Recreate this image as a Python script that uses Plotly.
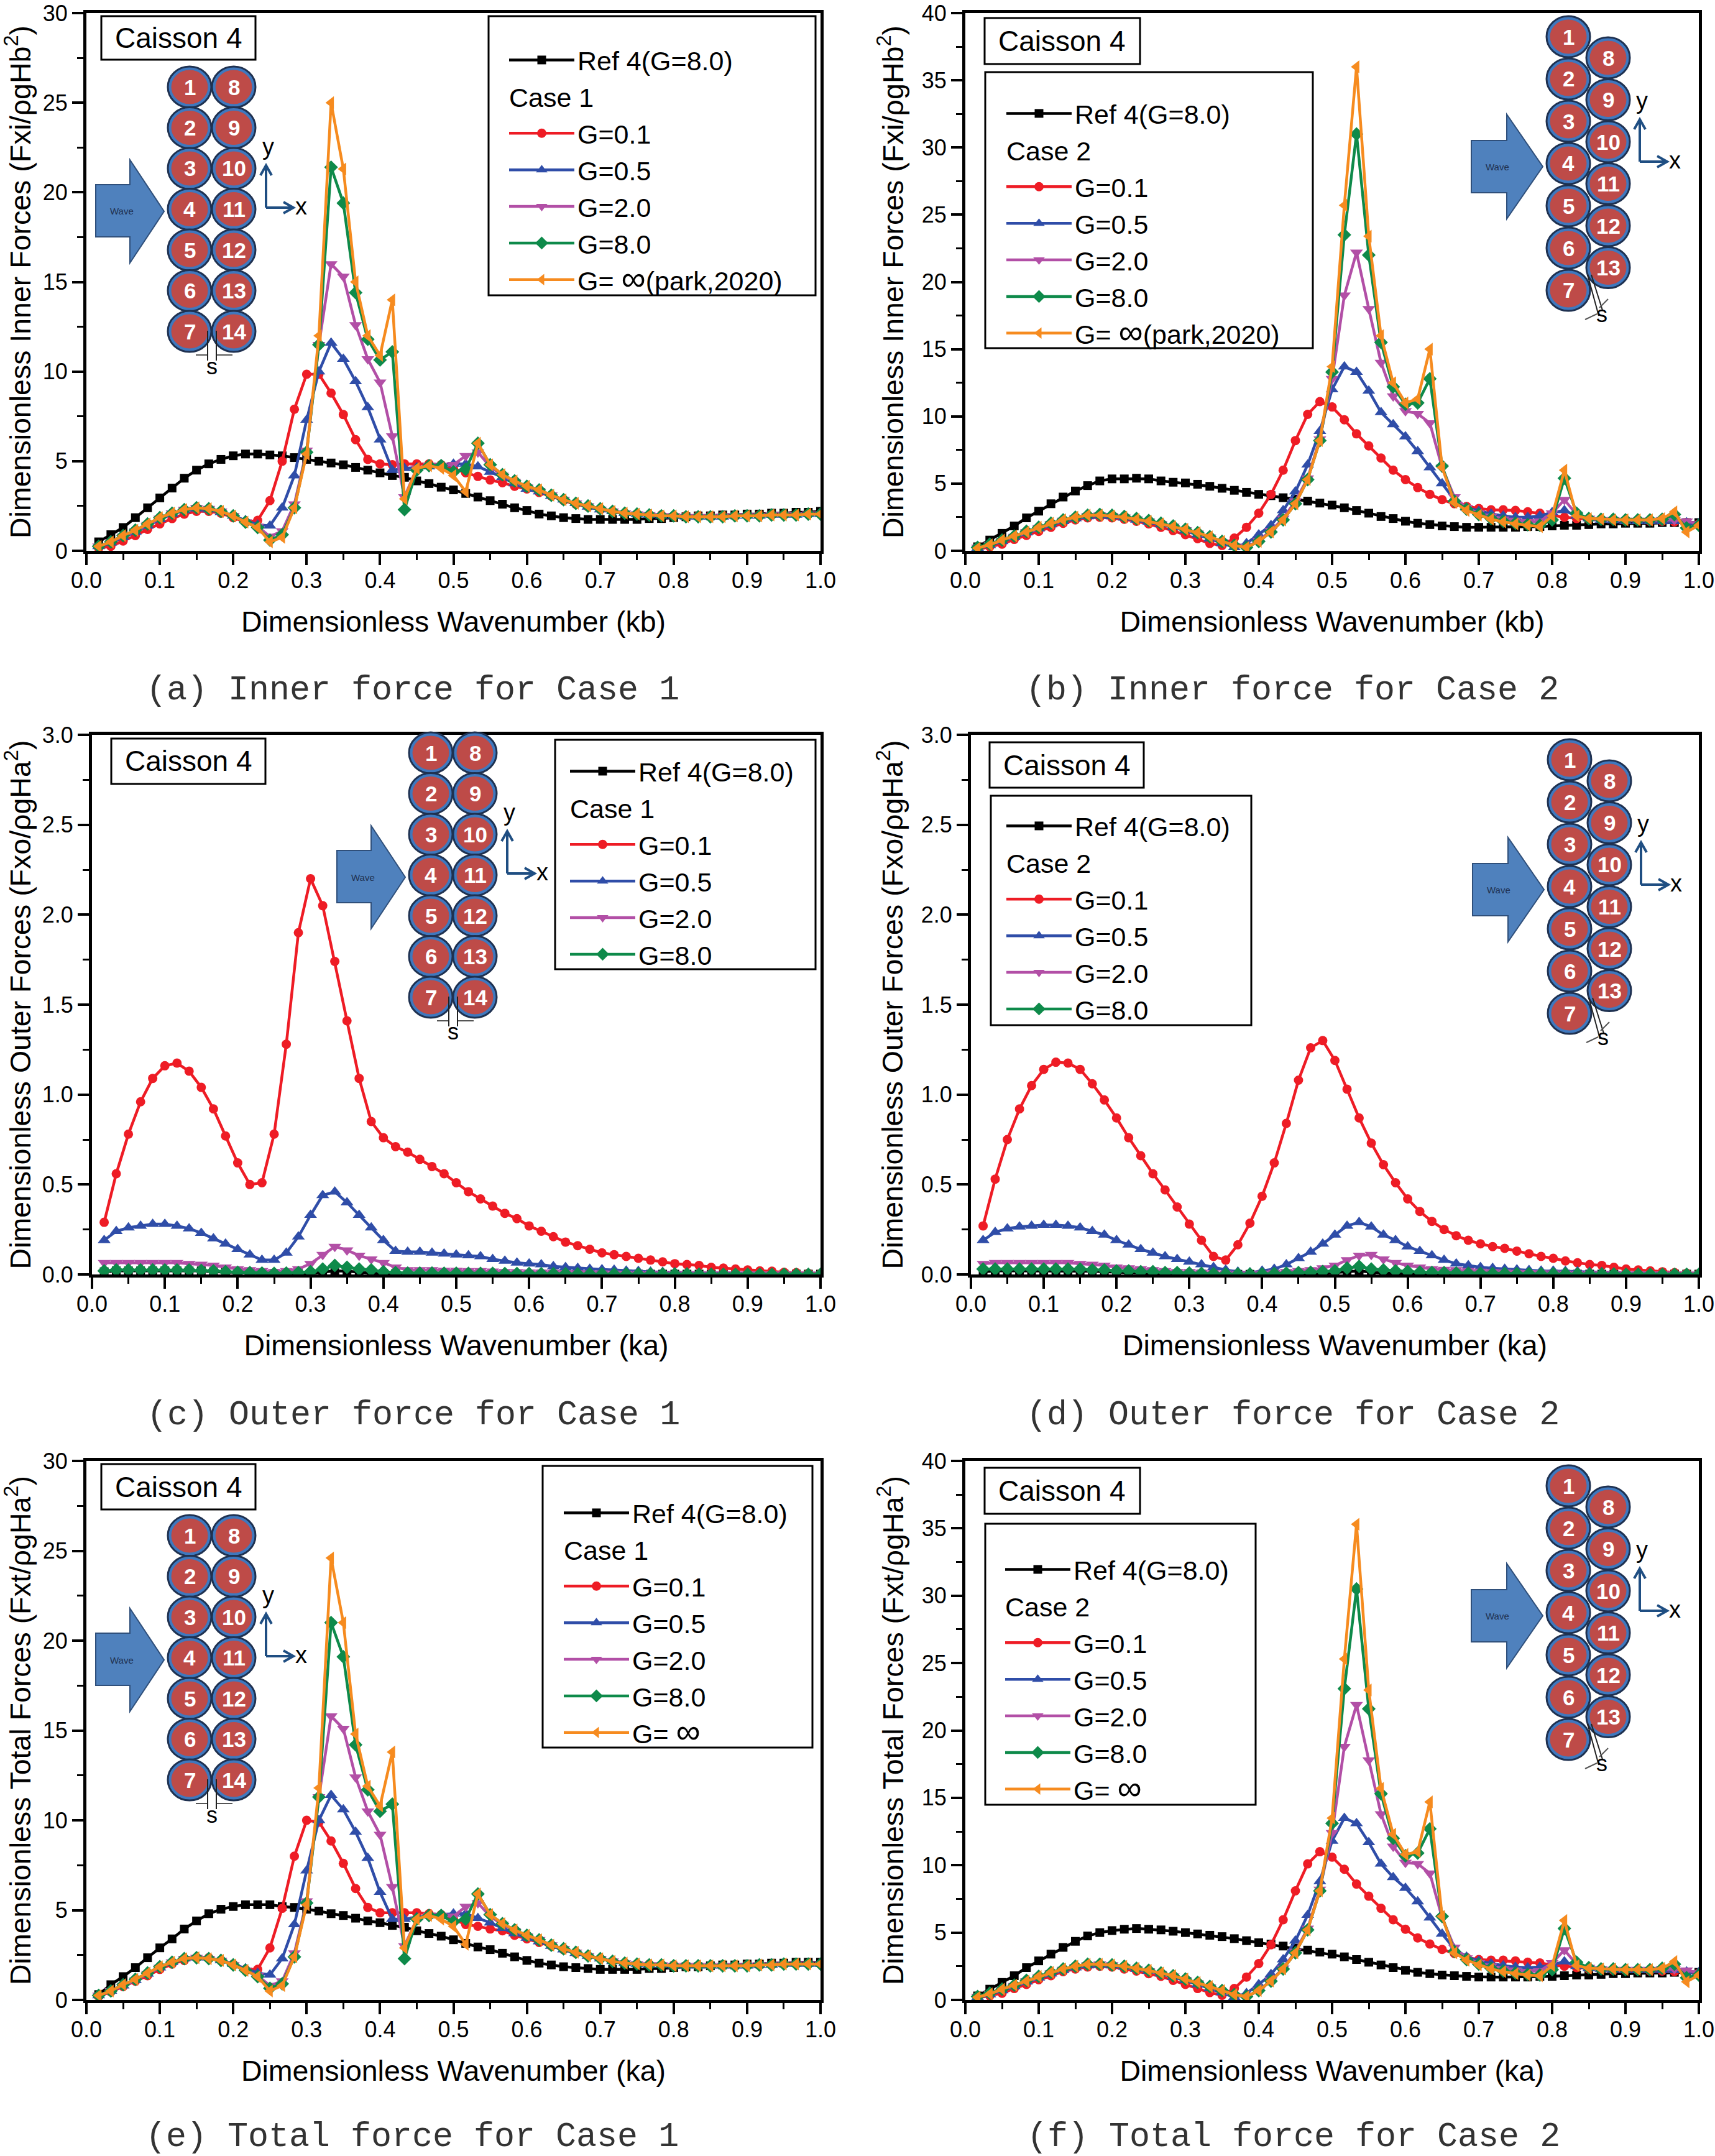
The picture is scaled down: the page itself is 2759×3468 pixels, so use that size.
import plotly.graph_objects as go

W, H = 2759, 3468

wavenumber = [0.0167, 0.0333, 0.05, 0.0667, 0.0833, 0.1, 0.1167, 0.1333, 0.15, 0.1667,
              0.1833, 0.2, 0.2167, 0.2333, 0.25, 0.2667, 0.2833, 0.3, 0.3167, 0.3333,
              0.35, 0.3667, 0.3833, 0.4, 0.4167, 0.4333, 0.45, 0.4667, 0.4833, 0.5,
              0.5167, 0.5333, 0.55, 0.5667, 0.5833, 0.6, 0.6167, 0.6333, 0.65, 0.6667,
              0.6833, 0.7, 0.7167, 0.7333, 0.75, 0.7667, 0.7833, 0.8, 0.8167, 0.8333,
              0.85, 0.8667, 0.8833, 0.9, 0.9167, 0.9333, 0.95, 0.9667, 0.9833, 1.0]

# (a) inner force, case 1
a_ref = [.5, .9, 1.3, 1.85, 2.4, 2.95, 3.5, 4.05, 4.5, 4.85,
         5.1, 5.3, 5.4, 5.4, 5.35, 5.3, 5.2, 5.1, 5.0, 4.9,
         4.8, 4.65, 4.5, 4.35, 4.2, 4.1, 3.9, 3.75, 3.55, 3.4,
         3.2, 3.0, 2.8, 2.6, 2.4, 2.25, 2.05, 1.95, 1.85, 1.8,
         1.75, 1.75, 1.75, 1.75, 1.75, 1.8, 1.8, 1.85, 1.9, 1.95,
         1.95, 2, 2, 2.05, 2.05, 2.1, 2.1, 2.15, 2.15, 2.2]
a_g01 = [.15, .25, .55, .85, 1.2, 1.5, 1.8, 2.05, 2.2, 2.2,
         2.1, 1.85, 1.6, 1.7, 2.8, 5.0, 7.9, 9.85, 9.85, 8.8,
         7.6, 6.2, 5.1, 4.85, 4.8, 4.85, 4.85, 4.85, 4.8, 4.6,
         4.35, 4.15, 3.95, 3.8, 3.6, 3.45, 3.25, 3.05, 2.8, 2.6,
         2.45, 2.3, 2.2, 2.1, 2.05, 2, 2, 1.95, 1.95, 1.95,
         1.95, 1.95, 1.95, 1.95, 2, 2, 2, 2, 2.05, 2.05]
a_g05 = [.25, .45, .75, 1.05, 1.4, 1.75, 2.05, 2.25, 2.35, 2.3,
         2.15, 1.95, 1.7, 1.45, 1.4, 2.4, 4.2, 7.3, 10, 11.6,
         10.7, 9.45, 8, 6.2, 4.5, 4.6, 4.65, 4.7, 4.8, 4.85,
         4.85, 4.7, 4.4, 4.1, 3.75, 3.45, 3.3, 3.05, 2.85, 2.65,
         2.45, 2.3, 2.2, 2.1, 2.05, 2, 1.95, 1.95, 1.9, 1.9,
         1.9, 1.9, 1.95, 1.95, 1.95, 2, 2, 2, 2.05, 2.05]
a_g2 = [.25, .5, .8, 1.1, 1.45, 1.8, 2.1, 2.3, 2.4, 2.35,
        2.2, 1.95, 1.6, 1.35, .8, 1.1, 2.6, 5.6, 11.5, 16,
        15.3, 12.6, 10.7, 9.4, 6.4, 3.0, 4.6, 4.75, 4.75, 4.8,
        5.3, 5.5, 4.7, 4.2, 3.85, 3.55, 3.35, 3.1, 2.85, 2.65,
        2.5, 2.3, 2.2, 2.1, 2.05, 2, 1.95, 1.95, 1.9, 1.9,
        1.9, 1.9, 1.95, 1.95, 1.95, 2, 2, 2, 2.05, 2.05]
a_g8 = [.25, .5, .85, 1.15, 1.5, 1.85, 2.1, 2.3, 2.4, 2.35,
        2.2, 1.95, 1.6, 1.3, .6, .9, 2.4, 5.5, 11.5, 21.4,
        19.4, 14.4, 11.8, 10.65, 11.1, 2.3, 4.5, 4.75, 4.75, 4.4,
        4.55, 6, 4.8, 4.25, 3.9, 3.6, 3.4, 3.1, 2.85, 2.65,
        2.5, 2.35, 2.2, 2.1, 2.05, 2, 1.95, 1.95, 1.9, 1.9,
        1.9, 1.9, 1.95, 1.95, 1.95, 2, 2, 2, 2.05, 2.05]
a_inf = [.25, .5, .85, 1.15, 1.5, 1.85, 2.1, 2.3, 2.4, 2.35,
         2.2, 1.95, 1.6, 1.3, .5, .75, 2.4, 5.4, 12, 25,
         21.3, 15, 12, 10.9, 14, 2.9, 4.6, 4.75, 4.6, 4.2,
         3.3, 6, 4.8, 4.25, 3.9, 3.6, 3.4, 3.1, 2.85, 2.65,
         2.5, 2.35, 2.2, 2.1, 2.05, 2, 1.95, 1.95, 1.9, 1.9,
         1.9, 1.9, 1.95, 1.95, 1.95, 2, 2, 2, 2.05, 2.05]

# (b) inner force, case 2
b_ref = [.3, .8, 1.3, 1.85, 2.45, 2.95, 3.5, 4.0, 4.45, 4.85,
         5.2, 5.35, 5.35, 5.4, 5.35, 5.2, 5.1, 5.05, 4.95, 4.8,
         4.65, 4.5, 4.35, 4.2, 4.1, 3.95, 3.85, 3.7, 3.55, 3.4,
         3.2, 3.0, 2.8, 2.55, 2.4, 2.2, 2.05, 1.95, 1.85, 1.8,
         1.75, 1.75, 1.75, 1.75, 1.75, 1.8, 1.8, 1.85, 1.9, 1.9,
         1.95, 2, 2, 2.05, 2.05, 2.05, 2.1, 2.1, 2.1, 2.1]
b_g01 = [.1, .3, .5, .85, 1.15, 1.45, 1.75, 2.05, 2.3, 2.45,
         2.5, 2.45, 2.35, 2.2, 2, 1.75, 1.5, 1.2, .9, .55,
         .4, .95, 1.75, 2.8, 4.2, 6, 8.2, 10.15, 11.1, 10.7,
         9.75, 8.7, 7.8, 6.9, 6, 5.3, 4.7, 4.2, 3.8, 3.5,
         3.3, 3.15, 3.05, 3.05, 3, 2.9, 2.8, 2.65, 2.5, 2.4,
         2.35, 2.3, 2.3, 2.25, 2.25, 2.2, 2.2, 2.15, 2.1, 2]
b_g05 = [.2, .4, .7, 1.0, 1.35, 1.65, 1.95, 2.2, 2.4, 2.55,
         2.6, 2.55, 2.45, 2.3, 2.15, 1.95, 1.75, 1.5, 1.2, .9,
         .55, .25, .55, 1.2, 1.9, 3.0, 4.4, 6.4, 8.9, 12.0,
         13.7, 13.3, 11.9, 10.3, 9.4, 8.5, 7.4, 6.2, 5.0, 3.8,
         3.2, 2.95, 2.75, 2.6, 2.5, 2.5, 2.6, 2.85, 3.0, 2.6,
         2.4, 2.3, 2.25, 2.2, 2.2, 2.2, 2.2, 2.2, 2.1, 2.05]
b_g2 = [.25, .45, .75, 1.05, 1.4, 1.7, 2, 2.25, 2.45, 2.6,
        2.65, 2.6, 2.5, 2.35, 2.2, 2, 1.8, 1.55, 1.3, 1,
        .65, .35, .3, .75, 1.5, 2.4, 3.7, 5.4, 8.3, 12.8,
        19, 22.2, 18, 14, 11.5, 10.4, 10.2, 9.5, 6.2, 4,
        3.2, 2.8, 2.55, 2.35, 2.25, 2.15, 2.2, 2.8, 3.8, 2.7,
        2.4, 2.3, 2.3, 2.25, 2.25, 2.25, 2.3, 2.3, 2.2, 2]
b_g8 = [.25, .5, .8, 1.1, 1.45, 1.75, 2.05, 2.3, 2.5, 2.65,
        2.7, 2.65, 2.55, 2.4, 2.25, 2.05, 1.85, 1.6, 1.35, 1.05,
        .7, .4, .25, .7, 1.4, 2.3, 3.5, 5.3, 8.2, 13.3,
        23.5, 31, 22, 15.5, 12.2, 10.9, 11, 12.8, 6.3, 3.7,
        3.1, 2.7, 2.4, 2.2, 2.05, 1.95, 1.9, 2.3, 5.4, 2.8,
        2.4, 2.35, 2.35, 2.3, 2.3, 2.3, 2.35, 2.7, 1.7, 1.9]
b_inf = [.2, .45, .8, 1.1, 1.4, 1.75, 2.05, 2.3, 2.5, 2.65,
         2.65, 2.6, 2.5, 2.35, 2.2, 2, 1.8, 1.6, 1.35, 1.05,
         .7, .4, .25, .7, 1.4, 2.3, 3.5, 5.3, 8.2, 13.7,
         25.7, 36, 23.4, 16, 12.5, 11, 11.3, 15, 6.2, 3.6,
         3, 2.65, 2.35, 2.15, 2, 1.9, 1.8, 2.6, 6, 2.6,
         2.4, 2.35, 2.3, 2.3, 2.3, 2.3, 2.4, 2.9, 1.4, 1.9]

# (c) outer force, case 1
c_ref = [.015, .02, .02, .02, .02, .02, .02, .02, .02, .015,
         .015, .012, .01, .008, .006, .005, .005, .006, .012, .02,
         .018, .012, .008, .006, .005, .004, .004, .004, .004, .004,
         .004, .004, .003, .003, .003, .003, .002, .002, .002, .002,
         .002, .002, .002, .002, .002, .002, .002, .002, .002, .002,
         .002, .002, .002, .002, .002, .002, .002, .002, .002, .002]
c_g01 = [.29, .56, .78, .96, 1.09, 1.16, 1.175, 1.13, 1.04, .92,
         .77, .62, .5, .51, .78, 1.28, 1.9, 2.2, 2.05, 1.74,
         1.41, 1.09, .85, .76, .71, .68, .64, .6, .56, .51,
         .46, .42, .38, .34, .31, .27, .24, .21, .18, .16,
         .14, .12, .11, .1, .09, .08, .07, .06, .055, .05,
         .04, .035, .03, .025, .02, .018, .012, .01, .006, .004]
c_g05 = [.19, .24, .26, .27, .28, .28, .27, .255, .23, .2,
         .17, .14, .11, .08, .08, .12, .21, .33, .44, .46,
         .4, .33, .26, .19, .13, .125, .125, .12, .115, .11,
         .105, .1, .085, .075, .065, .06, .055, .045, .04, .035,
         .03, .028, .025, .02, .018, .015, .013, .012, .01, .009,
         .008, .007, .006, .006, .005, .004, .004, .003, .002, .002]
c_g2 = [.065, .065, .065, .065, .065, .065, .065, .06, .055, .05,
        .04, .03, .025, .02, .015, .02, .03, .06, .11, .155,
        .135, .105, .085, .065, .04, .025, .025, .025, .022, .022,
        .02, .02, .017, .015, .014, .012, .011, .01, .009, .008,
        .007, .007, .006, .005, .005, .004, .004, .004, .003, .003,
        .003, .003, .002, .002, .002, .002, .002, .002, .001, .001]
c_g8 = [.02, .025, .025, .025, .025, .025, .025, .025, .022, .02,
        .015, .012, .01, .008, .006, .008, .01, .015, .03, .05,
        .04, .03, .025, .015, .01, .008, .008, .008, .007, .007,
        .006, .006, .006, .005, .005, .005, .004, .004, .004, .003,
        .003, .003, .002, .002, .002, .002, .002, .002, .002, .001,
        .001, .001, .001, .001, .001, .001, .001, .001, .001, .001]

# (d) outer force, case 2
d_ref = [.015, .02, .02, .02, .02, .02, .02, .02, .02, .018,
         .015, .012, .01, .008, .006, .005, .004, .003, .002, .002,
         .001, .001, .001, .001, .002, .002, .003, .004, .006, .01,
         .016, .02, .012, .008, .006, .005, .004, .004, .003, .003,
         .003, .002, .002, .002, .002, .002, .002, .002, .002, .002,
         .002, .002, .002, .002, .002, .002, .002, .002, .002, .002]
d_g01 = [.27, .53, .75, .92, 1.05, 1.14, 1.18, 1.175, 1.14, 1.06,
         .97, .87, .76, .66, .56, .47, .375, .28, .19, .1,
         .08, .165, .285, .435, .62, .84, 1.08, 1.26, 1.3, 1.19,
         1.03, .87, .73, .61, .51, .42, .35, .295, .25, .215,
         .19, .17, .155, .145, .13, .115, .1, .09, .075, .065,
         .055, .05, .04, .03, .025, .02, .015, .01, .007, .004]
d_g05 = [.19, .235, .255, .265, .27, .275, .275, .27, .26, .24,
         .22, .19, .165, .14, .12, .1, .085, .07, .055, .04,
         .025, .015, .01, .02, .03, .055, .09, .125, .17, .22,
         .27, .29, .265, .22, .19, .155, .13, .105, .08, .06,
         .05, .04, .035, .03, .027, .023, .02, .02, .018, .016,
         .014, .012, .01, .008, .007, .006, .005, .004, .003, .002]
d_g2 = [.06, .065, .065, .065, .065, .065, .065, .065, .06, .055,
        .05, .04, .035, .03, .025, .02, .015, .015, .01, .008,
        .006, .004, .004, .006, .01, .015, .02, .025, .035, .05,
        .08, .105, .11, .085, .065, .05, .04, .03, .027, .025,
        .02, .016, .014, .012, .01, .009, .008, .007, .006, .005,
        .005, .004, .004, .003, .003, .002, .002, .002, .001, .001]
d_g8 = [.03, .03, .03, .03, .03, .03, .03, .03, .03, .025,
        .025, .02, .02, .015, .015, .01, .01, .008, .006, .004,
        .003, .002, .002, .003, .005, .007, .01, .012, .016, .02,
        .035, .045, .03, .025, .02, .016, .013, .011, .01, .008,
        .007, .006, .005, .005, .004, .004, .003, .003, .003, .002,
        .002, .002, .002, .001, .001, .001, .001, .001, .001, .001]

# (e) total force, case 1
e_ref = [.3, .85, 1.3, 1.8, 2.35, 2.9, 3.4, 3.95, 4.4, 4.8,
         5.05, 5.2, 5.3, 5.3, 5.3, 5.2, 5.15, 5.05, 4.95, 4.8,
         4.7, 4.55, 4.4, 4.3, 4.15, 4.05, 3.85, 3.7, 3.55, 3.35,
         3.15, 2.95, 2.8, 2.6, 2.4, 2.2, 2.05, 1.95, 1.85, 1.8,
         1.75, 1.7, 1.7, 1.7, 1.7, 1.75, 1.75, 1.8, 1.85, 1.85,
         1.9, 1.95, 1.95, 2, 2, 2.05, 2.05, 2.1, 2.1, 2.1]
e_g01 = [.2, .45, .75, 1.05, 1.35, 1.7, 2.0, 2.2, 2.35, 2.35,
         2.2, 2.0, 1.7, 1.7, 2.9, 5.1, 8.0, 10, 9.9, 8.85,
         7.6, 6.2, 5.15, 4.85, 4.85, 4.85, 4.85, 4.8, 4.75, 4.5,
         4.2, 4.1, 3.95, 3.85, 3.6, 3.4, 3.2, 3.0, 2.8, 2.6,
         2.45, 2.3, 2.15, 2.05, 2, 2, 1.95, 1.95, 1.9, 1.9,
         1.9, 1.9, 1.9, 1.95, 1.95, 1.95, 2, 2, 2, 2]
e_g05 = [.25, .5, .8, 1.1, 1.45, 1.8, 2.1, 2.3, 2.35, 2.35,
         2.2, 2.0, 1.75, 1.5, 1.4, 2.3, 4.2, 7.2, 10, 11.4,
         10.6, 9.35, 7.9, 6.0, 4.5, 4.5, 4.6, 4.7, 4.75, 4.8,
         4.8, 4.55, 4.3, 4.0, 3.7, 3.45, 3.25, 3.0, 2.8, 2.6,
         2.45, 2.3, 2.15, 2.05, 2, 1.95, 1.95, 1.9, 1.9, 1.9,
         1.9, 1.9, 1.9, 1.9, 1.95, 1.95, 2, 2, 2, 2]
e_g2 = [.25, .5, .8, 1.1, 1.45, 1.8, 2.1, 2.3, 2.35, 2.3,
        2.2, 1.95, 1.65, 1.35, .8, 1.05, 2.6, 5.5, 11.3, 15.8,
        15.1, 12.4, 10.5, 9.2, 6.3, 3.0, 4.5, 4.7, 4.7, 4.65,
        5.2, 5.4, 4.65, 4.2, 3.85, 3.55, 3.35, 3.05, 2.85, 2.65,
        2.45, 2.3, 2.15, 2.05, 2, 1.95, 1.95, 1.9, 1.9, 1.9,
        1.9, 1.9, 1.9, 1.9, 1.95, 1.95, 2, 2, 2, 2]
e_g8 = [.25, .5, .85, 1.15, 1.5, 1.85, 2.1, 2.3, 2.35, 2.3,
        2.2, 1.95, 1.65, 1.3, .65, .9, 2.4, 5.4, 11.3, 21,
        19.1, 14.2, 11.7, 10.5, 10.9, 2.3, 4.5, 4.7, 4.7, 4.35,
        4.5, 5.9, 4.75, 4.25, 3.9, 3.6, 3.35, 3.05, 2.85, 2.65,
        2.45, 2.3, 2.15, 2.05, 2, 1.95, 1.95, 1.9, 1.9, 1.9,
        1.9, 1.9, 1.9, 1.9, 1.95, 1.95, 2, 2, 2, 2]
e_inf = [.25, .5, .85, 1.15, 1.5, 1.85, 2.1, 2.3, 2.35, 2.3,
         2.2, 1.95, 1.65, 1.3, .5, .8, 2.4, 5.3, 11.8, 24.6,
         21, 14.8, 11.9, 10.8, 13.8, 2.9, 4.5, 4.7, 4.5, 4.1,
         3.1, 5.9, 4.75, 4.25, 3.9, 3.6, 3.35, 3.05, 2.85, 2.65,
         2.45, 2.3, 2.15, 2.05, 2, 1.95, 1.95, 1.9, 1.9, 1.9,
         1.9, 1.9, 1.9, 1.9, 1.95, 1.95, 2, 2, 2, 2]

# (f) total force, case 2
f_ref = [.3, .8, 1.3, 1.8, 2.4, 2.9, 3.4, 3.9, 4.35, 4.75,
         5.0, 5.15, 5.25, 5.3, 5.25, 5.2, 5.1, 5.0, 4.9, 4.8,
         4.7, 4.55, 4.4, 4.25, 4.15, 4.0, 3.85, 3.7, 3.55, 3.4,
         3.2, 3.0, 2.8, 2.6, 2.4, 2.2, 2.05, 1.95, 1.85, 1.8,
         1.75, 1.7, 1.7, 1.7, 1.7, 1.7, 1.75, 1.75, 1.8, 1.85,
         1.85, 1.9, 1.95, 1.95, 2, 2, 2, 2.05, 2.05, 2.05]
f_g01 = [.15, .3, .5, .85, 1.15, 1.5, 1.8, 2.1, 2.3, 2.45,
         2.5, 2.45, 2.3, 2.15, 1.95, 1.75, 1.45, 1.15, .85, .55,
         .35, .85, 1.7, 2.7, 4.1, 5.95, 8.1, 10.1, 11, 10.6,
         9.7, 8.6, 7.7, 6.8, 5.95, 5.25, 4.6, 4.15, 3.75, 3.45,
         3.15, 3.0, 2.95, 2.95, 2.9, 2.8, 2.75, 2.6, 2.5, 2.4,
         2.3, 2.25, 2.2, 2.2, 2.2, 2.15, 2.15, 2.1, 2.05, 2.0]
f_g05 = [.2, .4, .7, 1, 1.35, 1.65, 1.95, 2.2, 2.4, 2.55,
         2.6, 2.55, 2.45, 2.3, 2.15, 1.95, 1.7, 1.45, 1.15, .85,
         .55, .2, .5, 1.15, 1.9, 3.0, 4.4, 6.3, 8.8, 11.8,
         13.5, 13.1, 11.7, 10.1, 9.1, 8.3, 7.3, 6.1, 4.9, 3.8,
         3.2, 2.9, 2.7, 2.55, 2.45, 2.4, 2.45, 2.6, 2.85, 2.5,
         2.35, 2.3, 2.25, 2.2, 2.2, 2.2, 2.2, 2.2, 2.1, 2.05]
f_g2 = [.25, .45, .75, 1.05, 1.4, 1.7, 2, 2.25, 2.45, 2.6,
        2.65, 2.6, 2.45, 2.3, 2.15, 1.95, 1.75, 1.5, 1.25, .95,
        .6, .3, .25, .7, 1.45, 2.35, 3.6, 5.3, 8.2, 12.4,
        18.8, 21.9, 17.8, 13.8, 11.4, 10.2, 10.1, 9.4, 6.1, 3.9,
        3.1, 2.75, 2.5, 2.3, 2.2, 2.1, 2.15, 2.75, 3.7, 2.65,
        2.4, 2.3, 2.25, 2.25, 2.25, 2.25, 2.3, 2.3, 2.2, 2]
f_g8 = [.25, .5, .8, 1.1, 1.45, 1.75, 2.05, 2.3, 2.5, 2.65,
        2.65, 2.6, 2.5, 2.35, 2.2, 2, 1.8, 1.55, 1.3, 1,
        .7, .4, .25, .7, 1.4, 2.3, 3.5, 5.2, 8.1, 13.1,
        23.1, 30.5, 21.6, 15.3, 12, 10.7, 10.9, 12.7, 6.2, 3.6,
        3, 2.65, 2.35, 2.15, 2, 1.9, 1.85, 2.25, 5.3, 2.8,
        2.4, 2.3, 2.3, 2.25, 2.25, 2.25, 2.35, 2.65, 1.65, 1.85]
f_inf = [.2, .45, .8, 1.1, 1.4, 1.75, 2.05, 2.3, 2.5, 2.65,
         2.65, 2.6, 2.5, 2.35, 2.2, 2, 1.8, 1.55, 1.3, 1,
         .7, .4, .25, .7, 1.4, 2.3, 3.5, 5.2, 8.1, 13.5,
         25.3, 35.3, 23, 15.7, 12.3, 10.8, 11, 14.7, 6.2, 3.5,
         2.95, 2.6, 2.3, 2.1, 1.95, 1.85, 1.8, 2.55, 5.9, 2.55,
         2.35, 2.3, 2.3, 2.25, 2.25, 2.25, 2.35, 2.85, 1.35, 1.85]

series_names = ["Ref 4(G=8.0)", "G=0.1", "G=0.5", "G=2.0", "G=8.0"]
colors = ["#000000", "#EE1C25", "#2F4DA8", "#B24FA6", "#0E8A4A", "#F68B1F"]
symbols = ["square", "circle", "triangle-up", "triangle-down", "diamond", "triangle-left"]
marker_sizes = [14, 15, 18, 18, 17, 18]

FONT = "Liberation Sans"
INF = '<span style="font-size:55px">∞</span>'

panels = [
    dict(id="", series=[a_ref, a_g01, a_g05, a_g2, a_g8, a_inf], case="Case 1", inf="G= " + INF + "(park,2020)",
         box=(139, 1320, 21, 886), ymax=30, dy=5, ytitle="Dimensionless Inner Forces (Fxi/ρgHb<sup>2</sup>)",
         xtitle="Dimensionless Wavenumber (kb)", caption="(a) Inner force for Case 1", capxy=(664, 1110),
         lbox=(786, 1312, 26, 475), lkey=819, lrow=101, cbox=(163, 411, 26, 96), anchor=(305, 140), stag=False),
    dict(id="2", series=[b_ref, b_g01, b_g05, b_g2, b_g8, b_inf], case="Case 2", inf="G= " + INF + "(park,2020)",
         box=(1553, 2733, 21, 886), ymax=40, dy=5, ytitle="Dimensionless Inner Forces (Fxi/ρgHb<sup>2</sup>)",
         xtitle="Dimensionless Wavenumber (kb)", caption="(b) Inner force for Case 2", capxy=(2079, 1110),
         lbox=(1585, 2112, 116, 560), lkey=1619, lrow=187, cbox=(1584, 1834, 29, 103), anchor=(2523, 59), stag=True),
    dict(id="3", series=[c_ref, c_g01, c_g05, c_g2, c_g8], case="Case 1", inf=None,
         box=(148, 1320, 1182, 2050), ymax=3, dy=.5, ytitle="Dimensionless Outer Forces (Fxo/ρgHa<sup>2</sup>)",
         xtitle="Dimensionless Wavenumber (ka)", caption="(c) Outer force for Case 1", capxy=(665, 2276),
         lbox=(893, 1312, 1190, 1559), lkey=917, lrow=1245, cbox=(179, 427, 1188, 1261), anchor=(693, 1211), stag=False),
    dict(id="4", series=[d_ref, d_g01, d_g05, d_g2, d_g8], case="Case 2", inf=None,
         box=(1562, 2733, 1182, 2050), ymax=3, dy=.5, ytitle="Dimensionless Outer Forces (Fxo/ρgHa<sup>2</sup>)",
         xtitle="Dimensionless Wavenumber (ka)", caption="(d) Outer force for Case 2", capxy=(2080, 2276),
         lbox=(1594, 2013, 1280, 1649), lkey=1619, lrow=1333, cbox=(1592, 1840, 1194, 1267), anchor=(2525, 1222), stag=True),
    dict(id="5", series=[e_ref, e_g01, e_g05, e_g2, e_g8, e_inf], case="Case 1", inf="G= " + INF,
         box=(139, 1320, 2350, 3217), ymax=30, dy=5, ytitle="Dimensionless Total Forces (Fxt/ρgHa<sup>2</sup>)",
         xtitle="Dimensionless Wavenumber (ka)", caption="(e) Total force for Case 1", capxy=(663, 3437),
         lbox=(873, 1307, 2358, 2811), lkey=907, lrow=2438, cbox=(163, 411, 2355, 2428), anchor=(305, 2470), stag=False),
    dict(id="6", series=[f_ref, f_g01, f_g05, f_g2, f_g8, f_inf], case="Case 2", inf="G= " + INF,
         box=(1553, 2733, 2350, 3217), ymax=40, dy=5, ytitle="Dimensionless Total Forces (Fxt/ρgHa<sup>2</sup>)",
         xtitle="Dimensionless Wavenumber (ka)", caption="(f) Total force for Case 2", capxy=(2081, 3437),
         lbox=(1585, 2020, 2451, 2903), lkey=1617, lrow=2529, cbox=(1584, 1834, 2361, 2435), anchor=(2523, 2390), stag=True),
]

for p in panels:
    for s in p["series"]:
        assert len(s) == len(wavenumber)


def px(x):
    return x / W


def py(y):
    return 1 - y / H


fig = go.Figure()
shapes = []
notes = []


def text(x, y, s, size, color="black", family=FONT):
    notes.append(dict(x=px(x), y=py(y), xref="paper", yref="paper", text=s, showarrow=False,
                      font=dict(size=size, color=color, family=family), xanchor="center", yanchor="middle"))


def rect(x0, x1, y0, y1, width=3):
    shapes.append(dict(type="rect", xref="paper", yref="paper", x0=px(x0), x1=px(x1), y0=py(y0), y1=py(y1),
                       line=dict(color="black", width=width), fillcolor="white"))


def poly(points, fill=None, color="black", width=2):
    d = "M" + " L".join(f"{px(x):.5f},{py(y):.5f}" for x, y in points)
    if fill:
        d += " Z"
    shapes.append(dict(type="path", xref="paper", yref="paper", path=d, fillcolor=fill,
                       line=dict(color=color, width=width)))


def disc(x, y, rx, ry, fill, color, width):
    shapes.append(dict(type="circle", xref="paper", yref="paper", x0=px(x - rx), x1=px(x + rx),
                       y0=py(y - ry), y1=py(y + ry), fillcolor=fill, line=dict(color=color, width=width)))


def diagram(ax, ay, stag):
    if stag:
        col1 = [(0, 68 * i) for i in range(7)]
        col2 = [(64, 34 + 67.5 * i) for i in range(6)]
        arrow = (-156, -99, -41, 167, 251, 125, 293, 209)
        origin = (115, 201)
    else:
        col1 = [(0, 65.5 * i) for i in range(7)]
        col2 = [(71, 65.5 * i) for i in range(7)]
        arrow = (-151, -96, -41, 157, 241, 117, 283, 200)
        origin = (123, 194)
    for n, (dx, dy) in enumerate(col1 + col2, start=1):
        disc(ax + dx, ay + dy, 35, 33, "#3F78BE", "#1F3150", 3)
        disc(ax + dx, ay + dy, 29, 27, "#BE4B48", "#BE4B48", 1)
        text(ax + dx, ay + dy, "<b>" + str(n) + "</b>", 35, color="white")
    b0, b1, tip, yb0, yb1, yh0, yh1, ytip = arrow
    poly([(ax + b0, ay + yb0), (ax + b1, ay + yb0), (ax + b1, ay + yh0), (ax + tip, ay + ytip),
          (ax + b1, ay + yh1), (ax + b1, ay + yb1), (ax + b0, ay + yb1)], fill="#4F81BD", color="#2F4F7A")
    text(ax + b0 + 42, ay + ytip, "Wave", 15, color="#1F3150")
    ox, oy = ax + origin[0], ay + origin[1]
    axis_blue = "#1F4E82"
    poly([(ox, oy), (ox, oy - 66)], color=axis_blue, width=4)
    poly([(ox - 9, oy - 52), (ox, oy - 68), (ox + 9, oy - 52)], color=axis_blue, width=4)
    poly([(ox, oy), (ox + 42, oy)], color=axis_blue, width=4)
    poly([(ox + 28, oy - 9), (ox + 44, oy), (ox + 28, oy + 9)], color=axis_blue, width=4)
    text(ox + 3, oy - 98, "y", 38)
    text(ox + 56, oy - 2, "x", 38)
    if stag:
        poly([(ax + 31, ay + 383), (ax + 49, ay + 449)], color="#222222")
        poly([(ax + 37, ay + 383), (ax + 55, ay + 440)], color="#222222")
        poly([(ax + 27, ay + 455), (ax + 46, ay + 446)], color="#555555")
        poly([(ax + 64, ay + 422), (ax + 50, ay + 436)], color="#555555")
        text(ax + 54, ay + 446, "s", 36)
    else:
        poly([(ax + 29, ay + 392), (ax + 29, ay + 440)], color="#222222")
        poly([(ax + 43, ay + 392), (ax + 43, ay + 440)], color="#222222")
        poly([(ax + 10, ay + 431), (ax + 28, ay + 431)], color="#555555")
        poly([(ax + 44, ay + 431), (ax + 69, ay + 431)], color="#555555")
        text(ax + 36, ay + 449, "s", 36)


layout_axes = {}
legends = {}
for p in panels:
    x0, x1, y0, y1 = p["box"]
    xa, ya = "x" + p["id"], "y" + p["id"]
    lg = "legend" + p["id"]
    names = series_names + ([p["inf"]] if p["inf"] else [])
    for i, s in enumerate(p["series"]):
        # the reference curve stands alone, the others sit under the "Case n" heading
        group = dict(legendgroup="ref") if i == 0 else dict(
            legendgroup="cases", legendgrouptitle=dict(text=p["case"], font=dict(family=FONT, size=43, color="black")))
        fig.add_trace(go.Scatter(x=wavenumber, y=s, name=names[i], mode="lines+markers",
                                 xaxis=xa, yaxis=ya, legend=lg,
                                 line=dict(color=colors[i], width=4.5),
                                 marker=dict(color=colors[i], symbol=symbols[i], size=marker_sizes[i]), **group))
    axis_style = dict(showgrid=False, zeroline=False, showline=True, mirror=True, linecolor="black", linewidth=5,
                      ticks="outside", ticklen=18, tickwidth=4, tickcolor="black", ticklabeloverflow="allow",
                      tickfont=dict(family=FONT, size=36, color="black"))
    layout_axes["xaxis" + p["id"]] = dict(
        axis_style, domain=[px(x0), px(x1)], range=[0, 1], dtick=.1, tick0=0, tickformat=".1f", anchor=ya,
        ticklabelstandoff=-6,
        minor=dict(dtick=.05, ticks="outside", ticklen=10, tickwidth=3, tickcolor="black"),
        title=dict(text=p["xtitle"], font=dict(family=FONT, size=46.5, color="black"), standoff=32))
    layout_axes["yaxis" + p["id"]] = dict(
        axis_style, domain=[py(y1), py(y0)], range=[0, p["ymax"]], dtick=p["dy"], tick0=0,
        tickformat=".1f" if p["ymax"] == 3 else "d", anchor=xa,
        minor=dict(dtick=p["dy"] / 2, ticks="outside", ticklen=10, tickwidth=3, tickcolor="black"),
        title=dict(text=p["ytitle"], font=dict(family=FONT, size=46.5, color="black"), standoff=16))
    legends[lg] = dict(x=px(p["lkey"] - 5), y=py(p["lrow"] - 39), xanchor="left", yanchor="top",
                       bgcolor="rgba(0,0,0,0)", borderwidth=0, itemwidth=105, tracegroupgap=0,
                       font=dict(family=FONT, size=43, color="black"))
    lx0, lx1, ly0, ly1 = p["lbox"]
    rect(lx0, lx1, ly0, ly1)
    cx0, cx1, cy0, cy1 = p["cbox"]
    rect(cx0, cx1, cy0, cy1)
    text((cx0 + cx1) / 2, (cy0 + cy1) / 2, "Caisson 4", 46)
    diagram(p["anchor"][0], p["anchor"][1], p["stag"])
    text(p["capxy"][0], p["capxy"][1], p["caption"], 55, color="#333333", family="Liberation Mono")

fig.update_layout(width=W, height=H, margin=dict(l=0, r=0, t=0, b=0, autoexpand=False),
                  paper_bgcolor="white", plot_bgcolor="white",
                  shapes=shapes, annotations=notes, **layout_axes, **legends)

# the browser's default body margin would shift the whole figure by 8px
fig.write_html("out.html", config={"displayModeBar": False},
               post_script="document.body.style.margin = '0';")
